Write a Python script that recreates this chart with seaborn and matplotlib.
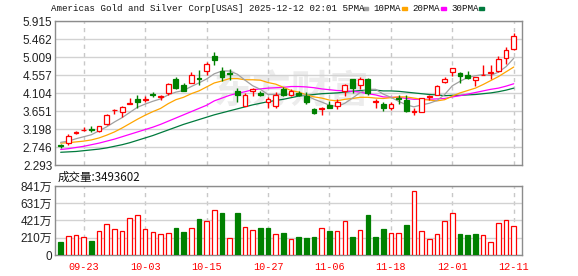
import numpy as np
import pandas as pd
import matplotlib
matplotlib.use("Agg")
import matplotlib.pyplot as plt
import seaborn as sns
from matplotlib.patches import Rectangle

# ---------------- data ----------------
dates = ["09-18", "09-19", "09-22", "09-23", "09-24", "09-25", "09-26", "09-29", "09-30",
         "10-01", "10-02", "10-03", "10-06", "10-07", "10-08", "10-09", "10-10", "10-13",
         "10-14", "10-15", "10-16", "10-17", "10-20", "10-21", "10-22", "10-23", "10-24",
         "10-27", "10-28", "10-29", "10-30", "10-31", "11-03", "11-04", "11-05", "11-06",
         "11-07", "11-10", "11-11", "11-12", "11-13", "11-14", "11-17", "11-18", "11-19",
         "11-20", "11-21", "11-24", "11-25", "11-26", "11-28", "12-01", "12-02", "12-03",
         "12-04", "12-05", "12-08", "12-09", "12-10", "12-11"]

opens = [2.80, 2.85, 3.10, 3.17, 3.20, 3.15, 3.33, 3.67, 3.63, 3.84,
         3.95, 3.94, 4.08, 4.01, 4.11, 4.47, 4.30, 4.36, 4.48, 4.65,
         5.03, 4.67, 4.60, 4.16, 3.78, 4.15, 4.10, 3.87, 3.77, 4.20,
         4.07, 4.12, 4.04, 3.71, 3.70, 3.80, 3.78, 4.17, 4.45, 4.31,
         4.47, 3.88, 3.84, 3.72, 3.97, 3.92, 3.63, 3.64, 4.00, 4.07,
         4.38, 4.63, 4.62, 4.55, 4.44, 4.56, 4.60, 4.65, 4.99, 5.21]
highs = [2.84, 3.08, 3.15, 3.25, 3.27, 3.29, 3.58, 3.70, 3.77, 3.97,
         4.07, 4.02, 4.13, 4.05, 4.35, 4.51, 4.36, 4.64, 4.69, 4.88,
         5.135, 4.76, 4.71, 4.24, 4.10, 4.24, 4.16, 4.01, 4.14, 4.25,
         4.20, 4.17, 4.14, 3.74, 3.76, 3.91, 3.95, 4.34, 4.45, 4.50,
         4.49, 3.95, 3.89, 3.89, 4.06, 4.05, 3.72, 3.99, 4.07, 4.30,
         4.52, 4.74, 4.64, 4.67, 4.52, 4.82, 4.80, 5.03, 5.26, 5.61]
lows = [2.72, 2.81, 3.09, 3.16, 3.14, 3.12, 3.30, 3.58, 3.51, 3.84,
        3.74, 3.89, 4.01, 3.94, 4.07, 4.22, 4.16, 4.35, 4.32, 4.55,
        4.82, 4.42, 4.43, 3.89, 3.77, 4.04, 4.02, 3.74, 3.74, 4.03,
        4.02, 4.03, 3.82, 3.58, 3.56, 3.72, 3.70, 4.03, 4.11, 4.22,
        4.07, 3.74, 3.66, 3.68, 3.84, 3.64, 3.56, 3.63, 3.92, 4.06,
        4.35, 4.53, 4.36, 4.45, 4.28, 4.56, 4.45, 4.64, 4.84, 5.19]
closes = [2.78, 3.02, 3.13, 3.19, 3.17, 3.28, 3.55, 3.69, 3.75, 3.85,
          3.89, 3.96, 4.06, 4.03, 4.34, 4.24, 4.17, 4.57, 4.46, 4.84,
          4.93, 4.50, 4.58, 4.07, 4.07, 4.21, 4.05, 3.95, 4.07, 4.07,
          4.15, 4.07, 3.87, 3.61, 3.72, 3.74, 3.89, 4.30, 4.24, 4.45,
          4.11, 3.90, 3.72, 3.84, 3.95, 3.66, 3.65, 3.97, 4.02, 4.28,
          4.45, 4.74, 4.53, 4.49, 4.50, 4.57, 4.64, 4.96, 5.19, 5.55]

ma5 = [2.87, 2.90, 2.96, 3.01, 3.06, 3.16, 3.26, 3.38, 3.49, 3.62,
       3.75, 3.83, 3.90, 3.96, 4.06, 4.13, 4.17, 4.27, 4.36, 4.46,
       4.59, 4.66, 4.66, 4.58, 4.43, 4.29, 4.20, 4.07, 4.07, 4.07,
       4.06, 4.06, 4.05, 3.95, 3.88, 3.80, 3.77, 3.85, 3.98, 4.12,
       4.20, 4.20, 4.08, 4.00, 3.90, 3.81, 3.76, 3.81, 3.85, 3.92,
       4.07, 4.29, 4.40, 4.50, 4.54, 4.57, 4.55, 4.63, 4.77, 4.98]
ma10 = [2.85, 2.86, 2.88, 2.90, 2.93, 2.98, 3.05, 3.13, 3.23, 3.34,
        3.45, 3.55, 3.64, 3.72, 3.84, 3.94, 4.00, 4.09, 4.16, 4.26,
        4.36, 4.41, 4.47, 4.47, 4.44, 4.44, 4.43, 4.37, 4.33, 4.25,
        4.17, 4.13, 4.06, 4.01, 3.98, 3.93, 3.91, 3.95, 3.97, 4.00,
        4.00, 3.98, 3.97, 3.99, 4.01, 4.01, 3.98, 3.95, 3.93, 3.91,
        3.94, 4.03, 4.11, 4.17, 4.23, 4.32, 4.42, 4.52, 4.64, 4.76]
ma20 = [2.69, 2.71, 2.74, 2.77, 2.81, 2.85, 2.90, 2.95, 3.01, 3.07,
        3.13, 3.19, 3.25, 3.32, 3.40, 3.48, 3.56, 3.64, 3.72, 3.80,
        3.91, 3.98, 4.05, 4.10, 4.14, 4.19, 4.21, 4.23, 4.24, 4.25,
        4.27, 4.27, 4.26, 4.24, 4.21, 4.19, 4.17, 4.16, 4.15, 4.13,
        4.09, 4.06, 4.01, 4.00, 4.00, 3.97, 3.95, 3.95, 3.95, 3.96,
        3.97, 4.01, 4.04, 4.08, 4.12, 4.16, 4.20, 4.23, 4.28, 4.34]
ma30 = [2.62, 2.63, 2.64, 2.66, 2.68, 2.70, 2.73, 2.77, 2.81, 2.86,
        2.92, 2.98, 3.04, 3.11, 3.18, 3.25, 3.32, 3.38, 3.44, 3.50,
        3.56, 3.61, 3.66, 3.71, 3.76, 3.81, 3.85, 3.89, 3.92, 3.95,
        3.99, 4.03, 4.05, 4.07, 4.09, 4.10, 4.11, 4.13, 4.15, 4.17,
        4.18, 4.18, 4.16, 4.16, 4.15, 4.13, 4.11, 4.09, 4.07, 4.06,
        4.04, 4.05, 4.05, 4.06, 4.07, 4.09, 4.11, 4.14, 4.18, 4.23]

volume_wan = [158, 228, 240, 215, 171, 293, 374, 313, 293, 447,
              484, 313, 280, 256, 268, 329, 280, 327, 439, 410,
              545, 516, 203, 516, 337, 301, 329, 329, 252, 268,
              191, 219, 207, 219, 325, 293, 288, 410, 219, 301,
              488, 219, 317, 268, 268, 366, 780, 293, 195, 256,
              414, 512, 260, 244, 260, 244, 158, 390, 427, 349.36]
volume_up = [0, 1, 1, 1, 0, 1, 1, 1, 1, 1,
             1, 1, 1, 1, 1, 0, 0, 1, 0, 1,
             1, 0, 1, 0, 1, 1, 0, 0, 1, 0,
             1, 0, 0, 0, 1, 0, 1, 1, 0, 1,
             0, 0, 0, 1, 1, 0, 1, 1, 1, 1,
             1, 1, 0, 0, 0, 1, 1, 1, 1, 1]

price_ticks = [2.293, 2.746, 3.198, 3.651, 4.104, 4.557, 5.009, 5.462, 5.915]
volume_ticks = [0, 210, 421, 631, 841]
volume_tick_labels = ["0", "210万", "421万", "631万", "841万"]
last_volume = 3493602
title_name = "Americas Gold and Silver Corp[USAS]"
title_time = "2025-12-12 02:01"
ma_labels = ["5PMA", "10PMA", "20PMA", "30PMA"]
ma_colors = ["#a0a0a0", "#ffa500", "#ff00ff", "#007a3d"]
RED = "#ff0000"
GREEN = "#008000"
label_every = 8
first_label = 3

# ---------------- style ----------------
sns.set_style("white")
plt.rcParams['font.family'] = ['Liberation Sans', 'Noto Sans CJK SC', 'DejaVu Sans']

W, H = 578, 276
fig = plt.figure(figsize=(W / 100, H / 100), dpi=100)
fig.patch.set_facecolor("white")


def fx(px):
    return px / W


def fy(py):
    return 1 - py / H


ax = fig.add_axes([fx(55), fy(165.3), (522 - 55) / W, (165.3 - 21) / H])
axv = fig.add_axes([fx(55), fy(255), (522 - 55) / W, (255 - 186) / H])

idx = np.arange(len(dates))
o = np.array(opens)
c = np.array(closes)
hi = np.array(highs)
lo = np.array(lows)
up = c >= o
cols = np.where(up, RED, GREEN)

# moving averages (seaborn)
for ma, col in zip([ma30, ma20, ma10, ma5], ma_colors[::-1]):
    sns.lineplot(x=idx, y=ma, ax=ax, color=col, linewidth=0.9, zorder=2)

# candles
ax.vlines(idx, lo, hi, colors=cols, linewidth=1.0, zorder=3)
ax.bar(idx, np.abs(c - o), bottom=np.minimum(o, c), width=0.62,
       color=np.where(up, "white", GREEN), edgecolor=cols, linewidth=0.9, zorder=4)

# watermark
ax.text(0.507, 0.505, "东方财富", transform=ax.transAxes, fontsize=28,
        color="#ececec", ha="center", va="center", zorder=0.5,
        family=["Noto Sans CJK SC"], fontweight="bold")

tick_pos = idx[first_label::label_every]
tick_lab = [dates[i] for i in tick_pos]

xlim = (-0.74, 60.07)
ax.set_xlim(*xlim)
ax.set_ylim(price_ticks[0], price_ticks[-1])
ax.set_yticks(price_ticks)
ax.set_yticklabels([f"{t:.3f}" for t in price_ticks], fontsize=8.5, color="#222222")
ax.set_xticks(tick_pos)
ax.set_xticklabels([])
ax.tick_params(length=0, pad=2)
ax.yaxis.grid(True, color="#d2d2d2", linewidth=1)
ax.xaxis.grid(True, color="#c8c8c8", linewidth=1, linestyle=(0, (3, 3)))
ax.set_axisbelow(True)
ax.set_xlabel("")
ax.set_ylabel("")
if ax.get_legend():
    ax.get_legend().remove()
for s in ax.spines.values():
    s.set_color("#8c8c8c")
    s.set_linewidth(1)

# volume (seaborn)
vdf = pd.DataFrame({"i": idx, "v": volume_wan})
sns.barplot(data=vdf, x="i", y="v", ax=axv, native_scale=True, width=0.6,
            color="white", errorbar=None, zorder=3)
for p, u in zip(axv.patches, volume_up):
    if u:
        p.set_facecolor("white")
        p.set_edgecolor(RED)
    else:
        p.set_facecolor(GREEN)
        p.set_edgecolor(GREEN)
    p.set_linewidth(0.9)

axv.set_xlim(*xlim)
axv.set_ylim(0, volume_ticks[-1])
axv.set_yticks(volume_ticks)
axv.set_yticklabels(volume_tick_labels, fontsize=8.5, color="#222222")
axv.set_xticks(tick_pos)
axv.set_xticklabels(tick_lab, color=RED, fontsize=7.3, family=["Liberation Mono"])
axv.tick_params(axis="y", length=0, pad=2)
axv.tick_params(axis="x", length=0, pad=5)
axv.yaxis.grid(True, color="#d2d2d2", linewidth=1)
axv.xaxis.grid(True, color="#c8c8c8", linewidth=1, linestyle=(0, (3, 3)))
axv.set_axisbelow(True)
axv.set_xlabel("")
axv.set_ylabel("")
for s in axv.spines.values():
    s.set_color("#8c8c8c")
    s.set_linewidth(1)

# title and legend
fig.text(fx(50.7), fy(8.6), f"{title_name} {title_time} {ma_labels[0]}",
         family=["Liberation Mono"], fontsize=6.6, va="center", ha="left", color="#111111")
label_x = [None, 373.3, 412.3, 451.0]
square_x = [362.7, 401.7, 440.7, 479.0]
for k in range(4):
    if label_x[k] is not None:
        fig.text(fx(label_x[k]), fy(8.6), ma_labels[k], family=["Liberation Mono"],
                 fontsize=6.6, va="center", ha="left", color="#111111")
    fig.patches.append(Rectangle((fx(square_x[k]), fy(9.6)), 5 / W, 3 / H,
                                 transform=fig.transFigure, color=ma_colors[k]))

fig.text(fx(58), fy(177.3), f"成交量:{last_volume}", family=["Noto Sans CJK SC"],
         fontsize=8.3, va="center", ha="left", color="#111111")

fig.savefig("out.png", dpi=100)
